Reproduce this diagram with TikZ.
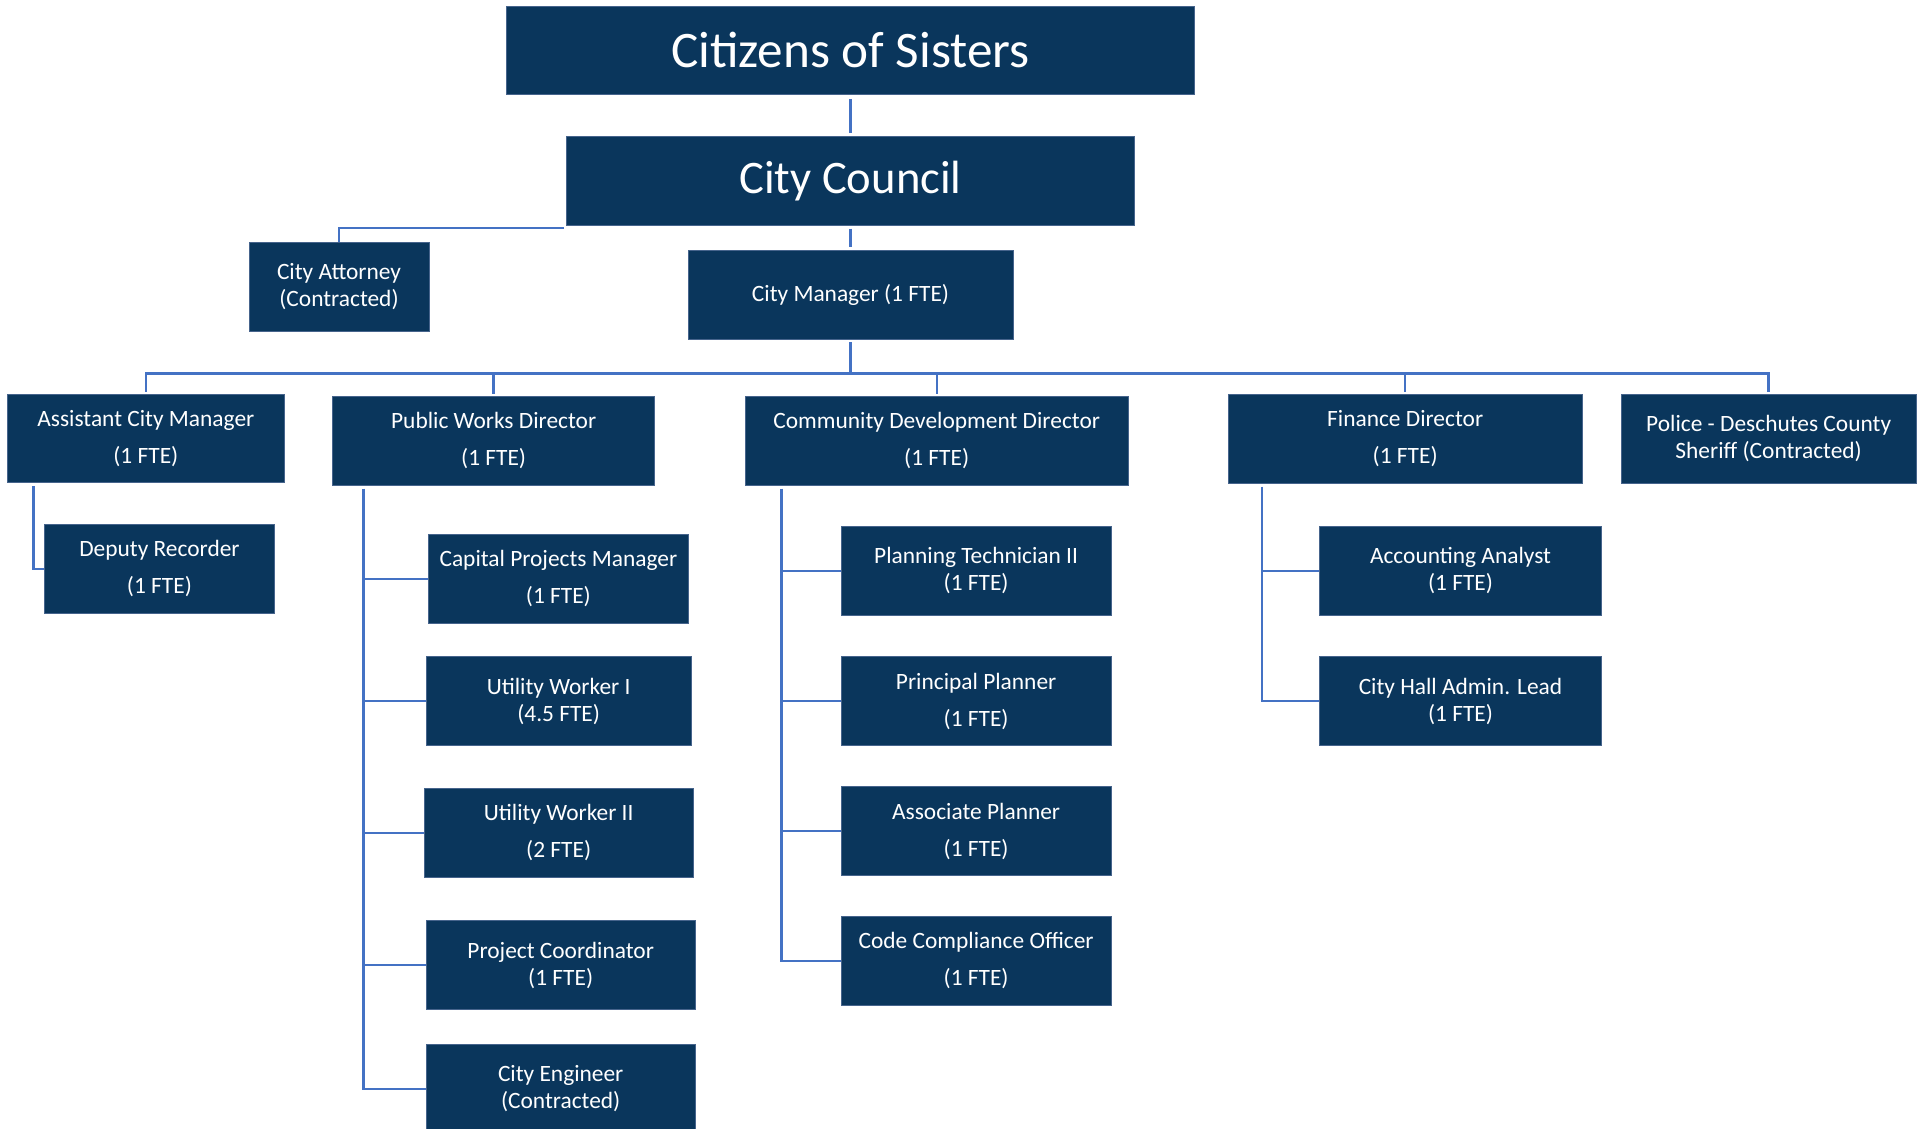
\documentclass[tikz,border=0pt]{standalone}
\usepackage{fontspec}
\setmainfont{Carlito}
\definecolor{navy}{RGB}{10,54,92}
\definecolor{navyedge}{RGB}{70,100,140}
\definecolor{linkblue}{RGB}{68,114,196}
\begin{document}
\begin{tikzpicture}[x=0.5pt,y=-0.5pt,
  box/.style={fill=navy, draw=navyedge, line width=0.4pt, text=white, inner sep=0pt, align=center,
              font=\fontsize{11.7}{18.5}\selectfont},
  tight/.style={font=\fontsize{11.7}{13.5}\selectfont},
  sz/.style 2 args={minimum width=#1pt, minimum height=#2pt},
  conn/.style={draw=linkblue, line width=1.2pt}]
\useasboundingbox[fill=white] (0,0) rectangle (1923,1129);
\begin{scope}
\clip (0,0) rectangle (1923,1129);
% top levels
\node[box, sz={344}{44.25}, font=\fontsize{25.6}{30}\selectfont] (cit) at (850.5,50.25) {Citizens of Sisters};
\node[box, sz={283.9}{44.65}, font=\fontsize{23.3}{28}\selectfont] (cc) at (850.5,180.65) {City Council};
\node[box, tight, sz={90}{44.5}] (ca) at (339,286.5) {City Attorney\\(Contracted)};
\node[box, sz={162.5}{44.5}] (cm) at (850.5,294.5) {City Manager (1 FTE)};
% second row
\node[box, sz={138.15}{44.2}] (acm) at (145.85,438.5) {Assistant City Manager\\(1 FTE)};
\node[box, sz={160.95}{44.45}] (pwd) at (493.65,440.65) {Public Works Director\\(1 FTE)};
\node[box, sz={191.5}{44.45}] (cdd) at (936.7,440.65) {Community Development Director\\(1 FTE)};
\node[box, sz={177.05}{44.45}] (fin) at (1405.15,438.75) {Finance Director\\(1 FTE)};
\node[box, tight, sz={147.45}{44.45}] (pol) at (1768.65,438.75) {Police - Deschutes County\\Sheriff (Contracted)};
% assistant city manager
\node[box, sz={115.05}{44.45}] (dr) at (159.45,568.75) {Deputy Recorder\\(1 FTE)};
% public works
\node[box, sz={130.4}{44.45}] (cpm) at (558.4,578.75) {Capital Projects Manager\\(1 FTE)};
\node[box, tight, sz={132.65}{44.45}] (uw1) at (558.65,701.05) {Utility Worker I\\(4.5 FTE)};
\node[box, sz={134.7}{44.45}] (uw2) at (558.7,832.95) {Utility Worker II\\(2 FTE)};
\node[box, tight, sz={134.7}{44.2}] (pc) at (560.7,965) {Project Coordinator\\(1 FTE)};
\node[box, tight, sz={134.7}{44.45}] (ce) at (560.7,1089.05) {City Engineer\\(Contracted)};
% community development
\node[box, tight, sz={134.95}{44.2}] (ppt) at (976.15,570.9) {Planning Technician II\\(1 FTE)};
\node[box, sz={134.95}{44.45}] (pp) at (976.15,701.05) {Principal Planner\\(1 FTE)};
\node[box, sz={134.95}{44.45}] (ap) at (976.15,831.05) {Associate Planner\\(1 FTE)};
\node[box, sz={134.95}{44.45}] (cco) at (976.15,960.95) {Code Compliance Officer\\(1 FTE)};
% finance
\node[box, tight, sz={141.2}{44.2}] (aa) at (1460.5,570.9) {Accounting Analyst\\(1 FTE)};
\node[box, tight, sz={141.2}{44.45}] (chl) at (1460.5,701.05) {City Hall Admin. Lead\\(1 FTE)};

% connectors
\coordinate (bus) at (0,373.3);
\draw[conn] ([yshift=-2pt]cit.south) -- ([yshift=1.5pt]cc.north);
\draw[conn] ([yshift=-1pt,xshift=-1pt]cc.south west) -| (ca.north);
\draw[conn] ([yshift=-1.5pt]cc.south) -- ([yshift=1.5pt]cm.north);
\draw[conn] ([yshift=-1.5pt]cm.south) -- (cm.south |- bus) -| ([yshift=1pt]acm.north);
\draw[conn] (cm.south |- bus) -| ([yshift=1pt]pwd.north);
\draw[conn] (cm.south |- bus) -| ([yshift=1pt]cdd.north);
\draw[conn] (cm.south |- bus) -| ([yshift=1pt]fin.north);
\draw[conn] (cm.south |- bus) -| ([yshift=1pt]pol.north);

\draw[conn] ([xshift=13pt,yshift=-1.5pt]acm.south west) |- (dr.west);

\draw[conn] ([xshift=15.55pt,yshift=-1.5pt]pwd.south west) |- (ce.west);
\foreach \n in {cpm,uw1,uw2,pc}
  \draw[conn] ([xshift=15.55pt]pwd.south west |- \n.west) -- (\n.west);

\draw[conn] ([xshift=18.35pt,yshift=-1.5pt]cdd.south west) |- (cco.west);
\foreach \n in {ppt,pp,ap}
  \draw[conn] ([xshift=18.35pt]cdd.south west |- \n.west) -- (\n.west);

\draw[conn] ([xshift=17.15pt,yshift=-1.5pt]fin.south west) |- (chl.west);
\draw[conn] ([xshift=17.15pt]fin.south west |- aa.west) -- (aa.west);
\end{scope}
\end{tikzpicture}
\end{document}
